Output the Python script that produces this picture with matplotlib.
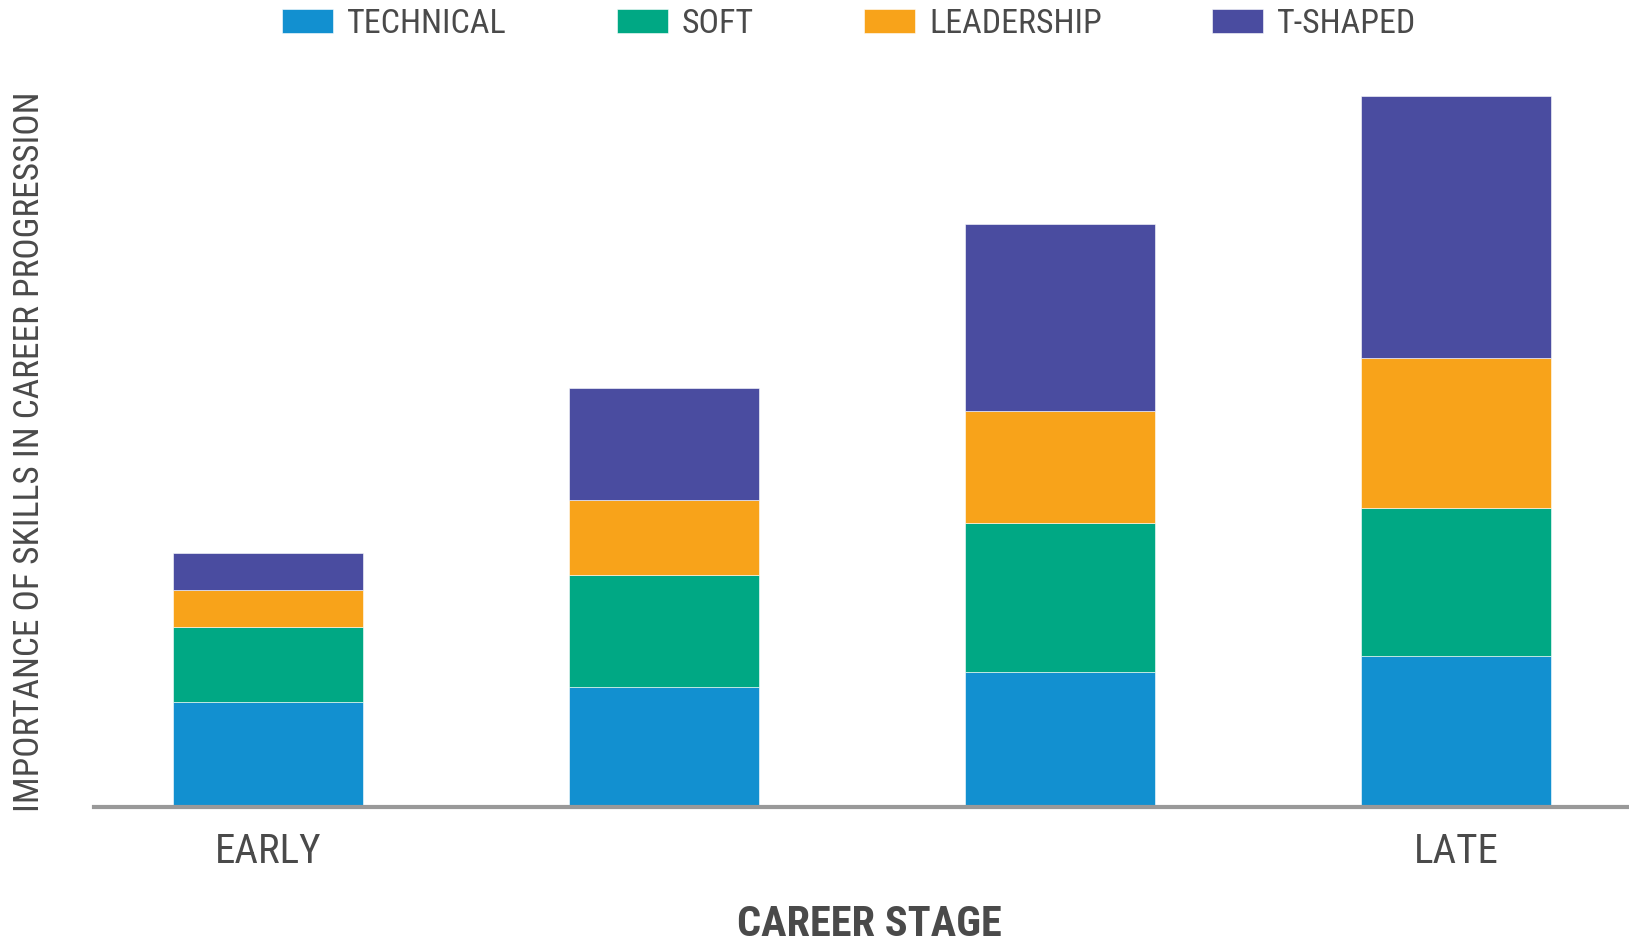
import numpy as np
import matplotlib
matplotlib.use("Agg")
from matplotlib import pyplot as plt

# career stages (only the ends are labelled)
stages = ["EARLY", "", "", "LATE"]
series = ["TECHNICAL", "SOFT", "LEADERSHIP", "T-SHAPED"]

# relative importance
technical = [2.8, 3.2, 3.6, 4.05]
soft = [2.0, 3.0, 4.0, 3.95]
leadership = [1.0, 2.0, 3.0, 4.0]
t_shaped = [1.0, 3.0, 5.0, 7.0]

colors = ["#1290d0", "#00a884", "#f8a31a", "#4a4ca0"]
text_col = "#4a4a4a"

plt.rcParams["font.family"] = ["Roboto Condensed", "Roboto", "DejaVu Sans"]

fig = plt.figure(figsize=(16.29, 9.42), dpi=100)
ax = fig.add_axes([93.5 / 1629, 1 - 807 / 942, 1 - 93.5 / 1629, (807 - 59) / 942])

x = np.arange(len(stages))
bottom = np.zeros(len(stages))
for name, vals, col in zip(series, [technical, soft, leadership, t_shaped], colors):
    ax.bar(x, vals, width=0.48, bottom=bottom, color=col, label=name,
           edgecolor="#ffffff", linewidth=0.4)
    bottom += np.array(vals)

ax.set_xlim(-0.44, 3.437)
ax.set_ylim(0, 20)
ax.set_xticks(x)
ax.set_xticklabels(stages, fontsize=29.5, color=text_col)
ax.tick_params(axis="x", length=0, pad=18)
ax.set_yticks([])
for s in ["top", "left", "right"]:
    ax.spines[s].set_visible(False)
ax.spines["bottom"].set_color("#999999")
ax.spines["bottom"].set_linewidth(3)

fig.text(869 / 1629, 1 - 924 / 942, "CAREER STAGE", ha="center", va="center",
         fontsize=30.5, fontweight="bold", color=text_col)
fig.text(30 / 1629, 1 - 452 / 942, "IMPORTANCE OF SKILLS IN CAREER PROGRESSION",
         rotation=90, ha="center", va="center", fontsize=25.5, color=text_col)

leg = fig.legend(loc="center", bbox_to_anchor=(849 / 1629, 1 - 24 / 942), ncol=4,
                 frameon=False, fontsize=24.5, handlelength=1.5, handleheight=0.72,
                 handletextpad=0.4, columnspacing=3.25)
for t in leg.get_texts():
    t.set_color(text_col)

fig.savefig("out.png", dpi=100)
